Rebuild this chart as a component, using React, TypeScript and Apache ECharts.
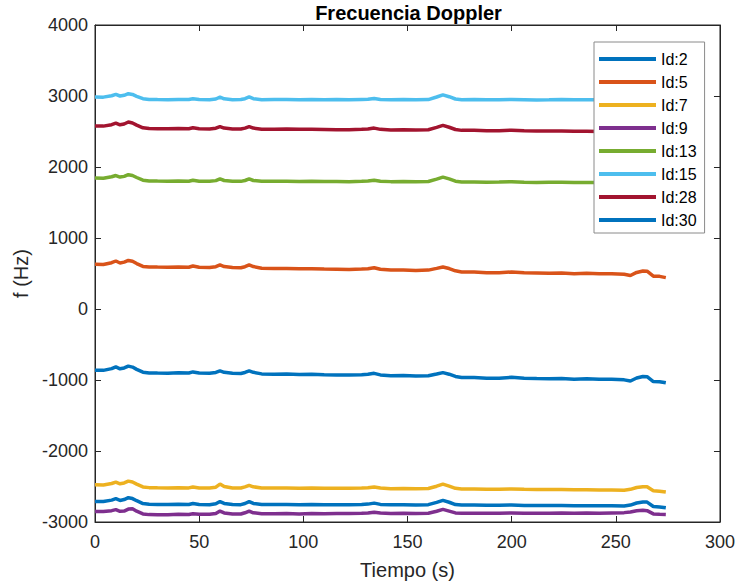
import React, { useEffect, useRef } from "react";
import * as echarts from "echarts";

const title = "Frecuencia Doppler";
const xLabel = "Tiempo (s)";
const yLabel = "f (Hz)";
const xTicks = [0, 50, 100, 150, 200, 250, 300];
const yTicks = [-3000, -2000, -1000, 0, 1000, 2000, 3000, 4000];

const seriesNames = ["Id:2", "Id:5", "Id:7", "Id:9", "Id:13", "Id:15", "Id:28", "Id:30"];
const seriesColors = ["#0072BD", "#D95319", "#EDB120", "#7E2F8E", "#77AC30", "#4DBEEE", "#A2142F", "#0072BD"];

const times = [0, 4, 8, 10, 12, 14, 16, 18, 20, 23, 26, 30, 35, 40, 45, 47, 50, 55, 58, 60, 62, 66, 70, 72, 74, 76, 80, 86, 92, 98, 104, 110, 116, 122, 128, 131, 134, 137, 142, 148, 154, 160, 164, 167, 170, 173, 176, 182, 188, 194, 200, 206, 212, 218, 224, 230, 236, 242, 248, 254, 257, 260, 263, 265, 268, 271, 274];

const id2 = [-862, -864, -840, -816, -842, -830, -804, -818, -850, -890, -900, -902, -904, -898, -902, -886, -902, -906, -894, -872, -892, -906, -908, -894, -872, -892, -914, -918, -916, -922, -920, -926, -928, -930, -926, -920, -906, -928, -940, -938, -944, -940, -916, -896, -918, -950, -964, -966, -974, -974, -962, -974, -980, -984, -980, -988, -984, -990, -988, -998, -1014, -972, -950, -954, -1022, -1024, -1040];
const id5 = [630, 628, 652, 676, 648, 660, 684, 672, 640, 600, 592, 590, 588, 592, 588, 606, 588, 584, 596, 620, 598, 584, 582, 596, 620, 598, 574, 570, 572, 566, 568, 562, 560, 558, 562, 568, 582, 560, 548, 550, 544, 548, 572, 592, 570, 538, 522, 520, 512, 512, 521, 510, 506, 502, 506, 498, 502, 496, 498, 490, 472, 515, 535, 532, 462, 460, 442];
const id7 = [-2476, -2478, -2458, -2438, -2462, -2450, -2424, -2436, -2466, -2506, -2516, -2518, -2520, -2516, -2520, -2506, -2520, -2522, -2510, -2466, -2500, -2520, -2522, -2506, -2484, -2504, -2522, -2522, -2520, -2524, -2522, -2524, -2526, -2526, -2522, -2518, -2506, -2522, -2530, -2528, -2532, -2528, -2496, -2466, -2494, -2526, -2534, -2534, -2538, -2538, -2534, -2540, -2544, -2544, -2542, -2546, -2546, -2550, -2548, -2552, -2540, -2514, -2502, -2504, -2560, -2566, -2578];
const id9 = [-2852, -2852, -2840, -2826, -2850, -2846, -2818, -2814, -2848, -2886, -2896, -2898, -2898, -2892, -2894, -2884, -2892, -2892, -2880, -2846, -2872, -2888, -2888, -2870, -2846, -2870, -2884, -2884, -2882, -2886, -2882, -2884, -2882, -2880, -2878, -2874, -2862, -2874, -2880, -2876, -2880, -2876, -2848, -2822, -2846, -2872, -2878, -2876, -2878, -2876, -2872, -2876, -2878, -2876, -2874, -2876, -2874, -2876, -2872, -2868, -2858, -2842, -2836, -2840, -2886, -2892, -2896];
const id13 = [1844, 1842, 1862, 1880, 1858, 1868, 1892, 1880, 1852, 1814, 1804, 1802, 1800, 1804, 1800, 1814, 1800, 1798, 1808, 1832, 1810, 1798, 1798, 1810, 1832, 1810, 1798, 1798, 1800, 1796, 1798, 1796, 1796, 1794, 1798, 1802, 1814, 1800, 1794, 1796, 1792, 1796, 1830, 1858, 1832, 1800, 1790, 1790, 1786, 1788, 1792, 1786, 1782, 1784, 1786, 1782, 1782, 1780, 1782, 1776, 1772, 1800, 1812, 1810, 1772, 1770, 1762];
const id15 = [2986, 2984, 3004, 3022, 3000, 3010, 3032, 3022, 2996, 2962, 2952, 2950, 2948, 2952, 2950, 2962, 2950, 2948, 2958, 2984, 2960, 2948, 2950, 2962, 2986, 2962, 2948, 2950, 2952, 2948, 2950, 2948, 2950, 2948, 2952, 2954, 2966, 2952, 2948, 2950, 2946, 2950, 2986, 3016, 2990, 2958, 2948, 2950, 2946, 2948, 2952, 2948, 2944, 2946, 2950, 2946, 2948, 2946, 2948, 2944, 2940, 2968, 2980, 2978, 2942, 2940, 2936];
const id28 = [2578, 2576, 2596, 2618, 2594, 2606, 2634, 2620, 2590, 2552, 2542, 2540, 2538, 2542, 2538, 2552, 2538, 2536, 2546, 2570, 2548, 2536, 2536, 2548, 2570, 2548, 2532, 2532, 2534, 2530, 2530, 2528, 2526, 2526, 2530, 2534, 2548, 2530, 2522, 2524, 2520, 2524, 2558, 2586, 2560, 2528, 2516, 2516, 2512, 2512, 2518, 2512, 2508, 2506, 2508, 2504, 2504, 2500, 2502, 2496, 2490, 2518, 2530, 2528, 2490, 2488, 2480];
const id30 = [-2710, -2712, -2692, -2672, -2696, -2684, -2658, -2670, -2700, -2740, -2750, -2752, -2754, -2750, -2754, -2740, -2754, -2756, -2744, -2712, -2738, -2754, -2756, -2740, -2712, -2738, -2754, -2754, -2752, -2756, -2754, -2756, -2758, -2756, -2754, -2748, -2734, -2752, -2758, -2756, -2760, -2756, -2724, -2696, -2722, -2754, -2762, -2760, -2764, -2764, -2760, -2766, -2768, -2768, -2766, -2770, -2770, -2772, -2770, -2774, -2762, -2732, -2718, -2720, -2782, -2788, -2800];

const seriesValues = [id2, id5, id7, id9, id13, id15, id28, id30];

const FONT = "'Liberation Sans', Arial, Helvetica, sans-serif";
const AX = "#262626";

export default function App() {
  const ref = useRef<HTMLDivElement>(null);
  useEffect(() => {
    if (!ref.current) return;
    const chart = echarts.init(ref.current, null, { renderer: "svg" });
    const xMin = xTicks[0], xMax = xTicks[xTicks.length - 1];
    const yMin = yTicks[0], yMax = yTicks[yTicks.length - 1];
    const xInt = xTicks[1] - xTicks[0];
    const yInt = yTicks[1] - yTicks[0];
    const tickCommon = { show: true, inside: true, length: 6, lineStyle: { color: AX, width: 1 } };
    const lineCommon = { show: true, onZero: false, lineStyle: { color: AX, width: 1 } };
    chart.setOption({
      animation: false,
      backgroundColor: "#ffffff",
      textStyle: { fontFamily: FONT },
      graphic: [
        {
          type: "text",
          x: 408.5,
          y: 13,
          style: {
            text: title,
            align: "center",
            verticalAlign: "middle",
            font: `bold 20px ${FONT}`,
            fill: "#000000",
          },
        },
      ],
      grid: { left: 95, right: 16, top: 25, bottom: 64, show: true, borderColor: AX, borderWidth: 1, backgroundColor: "transparent" },
      legend: {
        data: seriesNames,
        orient: "vertical",
        left: 594,
        top: 42,
        padding: [9, 8, 5, 5],
        itemWidth: 57,
        itemHeight: 4,
        itemGap: 7,
        icon: "rect",
        backgroundColor: "#ffffff",
        borderColor: "#8a8a8a",
        borderWidth: 1,
        borderRadius: 0,
        textStyle: { fontSize: 16, color: "#000000", fontFamily: FONT },
      },
      xAxis: [
        {
          type: "value",
          min: xMin,
          max: xMax,
          interval: xInt,
          name: xLabel,
          nameLocation: "middle",
          nameGap: 38,
          nameTextStyle: { fontSize: 20, color: AX, fontFamily: FONT },
          axisLine: lineCommon,
          axisTick: tickCommon,
          axisLabel: { fontSize: 18, color: AX, margin: 11, fontFamily: FONT },
          splitLine: { show: false },
        },
        {
          type: "value",
          position: "top",
          min: xMin,
          max: xMax,
          interval: xInt,
          axisLine: lineCommon,
          axisTick: tickCommon,
          axisLabel: { show: false },
          splitLine: { show: false },
        },
      ],
      yAxis: [
        {
          type: "value",
          min: yMin,
          max: yMax,
          interval: yInt,
          name: yLabel,
          nameLocation: "middle",
          nameGap: 62,
          nameRotate: 90,
          nameTextStyle: { fontSize: 20, color: AX, fontFamily: FONT },
          axisLine: lineCommon,
          axisTick: tickCommon,
          axisLabel: { fontSize: 18, color: AX, margin: 7, fontFamily: FONT, formatter: (v: number) => String(v) },
          splitLine: { show: false },
        },
        {
          type: "value",
          position: "right",
          min: yMin,
          max: yMax,
          interval: yInt,
          axisLine: lineCommon,
          axisTick: tickCommon,
          axisLabel: { show: false },
          splitLine: { show: false },
        },
      ],
      series: seriesNames.map((name, si) => ({
        name,
        type: "line",
        xAxisIndex: 0,
        yAxisIndex: 0,
        showSymbol: false,
        symbol: "none",
        smooth: false,
        color: seriesColors[si],
        lineStyle: { width: 3.5, color: seriesColors[si] },
        data: times.map((t, i) => [t, seriesValues[si][i]]),
      })),
    });
    return () => chart.dispose();
  }, []);
  return <div ref={ref} style={{ position: "absolute", left: 0, top: 0, width: 738, height: 586 }} />;
}
